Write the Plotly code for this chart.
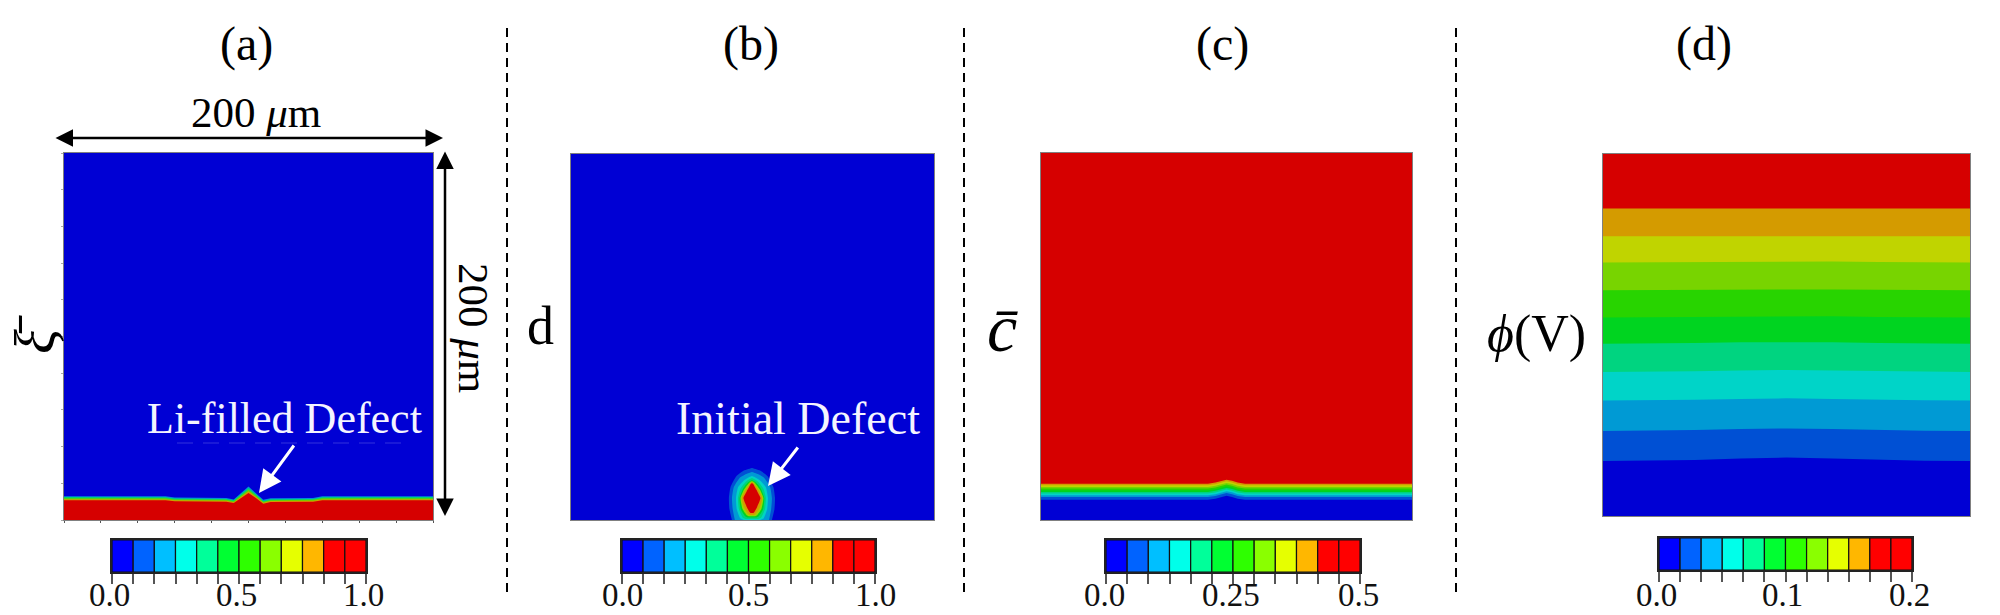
import plotly.graph_objects as go

W = 2000
H = 615
FONT = "Liberation Serif"

# panel boxes in pixels of the page: left, right, top, bottom
panel_box = [(64, 433, 153, 520), (571, 934, 154, 520), (1041, 1412, 153, 520), (1603, 1970, 154, 516)]
cbar_box = [(112, 366, 540, 572), (622, 875, 540, 572), (1106, 1360, 540, 572), (1659, 1912, 538, 570)]
cbar_label_shift = [-3, 0, -2, -3]

# contour colours as the panels show them (muted) and as the colour bars show them
cbar_colors = ["#0000ff", "#0063ff", "#00bfff", "#00ffea", "#00ff9a", "#00ff32",
               "#2eff00", "#8aff00", "#e6ff00", "#ffb700", "#ff0000", "#ff0000"]
cbar_max = [1.0, 1.0, 0.5, 0.2]
cbar_labels = [["0.0", "0.5", "1.0"], ["0.0", "0.5", "1.0"], ["0.0", "0.25", "0.5"], ["0.0", "0.1", "0.2"]]

BLUE = "#0000d4"
RED = "#d60000"

# (a) interface, y in um along a_x
a_x = [0, 30, 55, 60, 88, 92, 96, 100, 104, 108, 112, 135, 140, 170, 200]
a_colors = ["#0090d4", "#00d470", "#60d400", "#d49b00", RED]
a_outer = [13.0, 13.0, 12.9, 12.2, 12.0, 11.2, 14.6, 18.2, 14.6, 11.0, 11.8, 12.0, 12.9, 13.0, 13.0]
a_green = [12.5, 12.5, 12.4, 11.7, 11.5, 10.7, 14.0, 17.4, 14.0, 10.4, 11.3, 11.5, 12.4, 12.5, 12.5]
a_yellow = [11.9, 11.9, 11.8, 11.2, 11.0, 10.2, 13.4, 16.5, 13.4, 9.9, 10.8, 11.0, 11.8, 11.9, 11.9]
a_orange = [11.3, 11.3, 11.2, 10.7, 10.5, 9.7, 12.7, 15.6, 12.7, 9.4, 10.3, 10.5, 11.2, 11.3, 11.3]
a_red = [10.8, 10.8, 10.7, 10.2, 10.0, 9.2, 12.0, 14.7, 12.0, 8.9, 9.8, 10.0, 10.7, 10.8, 10.8]
a_layers = [a_outer, a_green, a_yellow, a_orange, a_red]

# (b) defect contours, height y and half width in um, outer one first
b_center = 99.7
b_colors = ["#0050d4", "#009ad4", "#00d4c4", "#00d480", "#00d420", "#9ad400", "#d49b00", RED]
b_y = [
    [-2, 0, 6, 12, 18, 24, 27, 28.4],
    [-2, 0, 6, 12, 18, 23, 25, 26.2],
    [0.0, 1, 6, 12, 18, 21.5, 23, 24],
    [0.5, 1.2, 6, 12, 17, 20.5, 22, 23],
    [1.3, 2, 6, 12, 17, 19.5, 21, 21.9],
    [2, 2.8, 6, 12, 16.5, 19, 20.5, 21.3],
    [2.8, 3.6, 6.5, 12, 16, 18.5, 20, 20.8],
    [3.8, 4.5, 7, 12, 15.5, 18, 19.5, 20.2],
]
b_hw = [
    [10.5, 11.0, 12.4, 12.7, 11.8, 8.5, 4.5, 0],
    [8.8, 9.4, 10.6, 11.0, 10.0, 6.8, 3.5, 0],
    [4.5, 6.5, 8.4, 8.8, 7.6, 4.6, 2.4, 0],
    [3.5, 5.0, 7.2, 7.7, 6.4, 3.8, 2.0, 0],
    [2.5, 3.8, 6.2, 6.8, 5.0, 3.2, 1.6, 0],
    [1.8, 3.0, 5.2, 6.3, 4.4, 2.6, 1.3, 0],
    [1.2, 2.2, 4.2, 5.6, 3.8, 2.0, 1.0, 0],
    [0.8, 1.4, 2.8, 4.7, 3.0, 1.6, 0.8, 0],
]

# (c) bands below the red part, top band first
c_x = [0, 90, 94, 97, 100, 103, 106, 110, 200]
c_bump = [0, 0, 0.6, 1.6, 2.2, 1.6, 0.6, 0, 0]
c_colors = ["#d49b00", "#c0d400", "#78d400", "#28d400", "#00d420", "#00d480", "#00d4c8", "#009ad4", "#0050d4", BLUE]
c_levels = [19.8, 18.9, 18.0, 17.1, 16.2, 15.3, 14.4, 13.5, 12.5, 11.0]

# (d) band edges, top band first
d_x = [0, 25, 50, 75, 100, 125, 150, 175, 200]
d_colors = ["#d49b00", "#c0d400", "#78d400", "#28d400", "#00d420", "#00d480", "#00d4c8", "#009ad4", "#0050d4", BLUE]
d_edges = [
    [169.9, 169.9, 170.0, 170.1, 170.2, 170.1, 170.0, 169.9, 169.9],
    [154.5, 154.5, 154.6, 154.8, 154.9, 154.8, 154.6, 154.5, 154.5],
    [140.1, 140.2, 140.4, 140.6, 140.7, 140.6, 140.4, 140.2, 140.1],
    [124.7, 124.8, 125.0, 125.2, 125.4, 125.2, 125.0, 124.8, 124.7],
    [109.7, 109.8, 110.0, 110.3, 110.5, 110.3, 110.0, 109.8, 109.7],
    [95.2, 95.3, 95.6, 96.0, 96.2, 96.0, 95.6, 95.3, 95.2],
    [79.6, 79.7, 80.0, 80.4, 80.7, 80.4, 80.0, 79.7, 79.6],
    [63.8, 63.9, 64.2, 64.7, 65.0, 64.7, 64.2, 63.9, 63.8],
    [47.0, 47.1, 47.5, 48.1, 48.4, 48.1, 47.5, 47.1, 47.0],
    [30.4, 30.5, 30.9, 31.7, 32.3, 31.7, 30.9, 30.5, 30.4],
]

panel_bg = [BLUE, BLUE, RED, RED]


def fx(px):
    return px / W


def fy(py):
    return 1 - py / H


def band(x, y, color, ax):
    # filled down to the bottom of the panel, later ones paint over earlier ones
    return go.Scatter(x=x, y=y, mode="lines", fill="tozeroy", fillcolor=color,
                      line=dict(color=color, width=0), xaxis="x" + ax, yaxis="y" + ax,
                      hoverinfo="skip", showlegend=False)


fig = go.Figure()

for ys, color in zip(a_layers, a_colors):
    fig.add_trace(band(a_x, ys, color, ""))

for ys, hw, color in zip(b_y, b_hw, b_colors):
    xs = [b_center - w for w in hw] + [b_center + w for w in hw[::-1]]
    fig.add_trace(go.Scatter(x=xs, y=ys + ys[::-1], mode="lines", fill="toself", fillcolor=color,
                             line=dict(color=color, width=0, shape="spline", smoothing=0.5),
                             xaxis="x2", yaxis="y2", hoverinfo="skip", showlegend=False))

for level, color in zip(c_levels, c_colors):
    fig.add_trace(band(c_x, [level + b for b in c_bump], color, "3"))

for ys, color in zip(d_edges, d_colors):
    fig.add_trace(band(d_x, ys, color, "4"))

layout = dict(template="none", width=W, height=H, margin=dict(l=0, r=0, t=0, b=0), paper_bgcolor="white",
              plot_bgcolor="white", font=dict(family=FONT, color="black"), showlegend=False)

for i, box in enumerate(panel_box):
    n = "" if i == 0 else str(i + 1)
    ticks = "outside" if i == 0 else ""
    layout["xaxis" + n] = dict(domain=[fx(box[0]), fx(box[1])], range=[0, 200], anchor="y" + n,
                               automargin=False, showgrid=False, zeroline=False, showticklabels=False,
                               ticks=ticks, ticklen=2, tickcolor="#555555", dtick=20,
                               showline=True, mirror=True, linecolor="#808080", linewidth=1)
    layout["yaxis" + n] = dict(domain=[fy(box[3]), fy(box[2])], range=[0, 200], anchor="x" + n,
                               automargin=False, showgrid=False, zeroline=False, showticklabels=False,
                               ticks=ticks, ticklen=2, tickcolor="#aaaaaa", dtick=20,
                               showline=True, mirror=True, linecolor="#808080", linewidth=1)
    layout.setdefault("shapes", []).append(
        dict(type="rect", layer="below", xref="x" + n, yref="y" + n, x0=0, x1=200, y0=0, y1=200,
             fillcolor=panel_bg[i], line=dict(width=0)))

cbar_notes = []
for i, box in enumerate(cbar_box):
    n = str(i + 5)
    step = cbar_max[i] / len(cbar_colors)
    edges = [step * k for k in range(len(cbar_colors) + 1)]
    mids = [step * (k + 0.5) for k in range(len(cbar_colors))]
    fig.add_trace(go.Bar(x=mids, y=[1] * len(cbar_colors), width=step, xaxis="x" + n, yaxis="y" + n,
                         marker=dict(color=cbar_colors, line=dict(color="#111111", width=1.2)),
                         hoverinfo="skip", showlegend=False))
    layout["xaxis" + n] = dict(domain=[fx(box[0]), fx(box[1])], range=[0, cbar_max[i]], anchor="y" + n,
                               automargin=False, tickvals=edges, showticklabels=False, ticks="outside", ticklen=10,
                               tickcolor="#555555", tickwidth=1.5,
                               showgrid=False, zeroline=False, showline=True, mirror=True,
                               linecolor="#222222", linewidth=1.5)
    layout["yaxis" + n] = dict(domain=[fy(box[3]), fy(box[2])], range=[0, 1], anchor="x" + n,
                               automargin=False, showgrid=False, zeroline=False, showticklabels=False,
                               showline=True, mirror=True, linecolor="#222222", linewidth=1.5)
    # tick labels as annotations, plotly puts its own ones too low for this page
    for text, value in zip(cbar_labels[i], [0, cbar_max[i] / 2, cbar_max[i]]):
        cbar_notes.append(dict(text=text, xref="x" + n, yref="paper", x=value, y=fy(595),
                               xshift=cbar_label_shift[i], showarrow=False, xanchor="center", yanchor="middle",
                               font=dict(size=33, family=FONT, color="#111111")))

layout["annotations"] = cbar_notes
fig.update_layout(**layout)

# dashed separators
for x in [507, 964, 1456]:
    fig.add_shape(type="line", xref="paper", yref="paper", x0=fx(x), x1=fx(x), y0=fy(28), y1=fy(593),
                  line=dict(color="black", width=2, dash="9px,6px"))

# faint scratch left under the text of panel (a)
fig.add_shape(type="line", xref="paper", yref="paper", x0=fx(177), x1=fx(403), y0=fy(443), y1=fy(443),
              line=dict(color="rgba(255,255,255,0.2)", width=1, dash="16px,10px"))


def label(text, x, y, size, color="black", angle=0):
    fig.add_annotation(text=text, xref="paper", yref="paper", x=fx(x), y=fy(y), showarrow=False,
                       xanchor="center", yanchor="middle", textangle=angle,
                       font=dict(size=size, family=FONT, color=color))


def arrow(x0, y0, x1, y1, color, width, size, both=False):
    fig.add_annotation(text="", xref="paper", yref="paper", x=fx(x1), y=fy(y1), axref="pixel", ayref="pixel",
                       ax=x0 - x1, ay=y0 - y1, showarrow=True, arrowhead=2, arrowsize=size,
                       arrowwidth=width, arrowcolor=color, arrowside="end+start" if both else "end")


for text, x in zip(["(a)", "(b)", "(c)", "(d)"], [246, 751, 1222, 1704]):
    label(text, x, 44, 48)

label("200 <i>μ</i>m", 256, 112, 43)
label("200 <i>μ</i>m", 474, 328, 43, angle=90)
arrow(54, 138, 443, 138, "black", 2.5, 1.4, both=True)
arrow(445, 150, 445, 516, "black", 2.5, 1.4, both=True)

label("<i>ξ̄</i>", 34, 334, 58, angle=-90)
label("d", 540, 326, 54)
label("<i>c̄</i>", 1002, 328, 68)
label("<i>ϕ</i>(V)", 1536, 334, 52)

label("Li-filled Defect", 284, 418, 44, color="#f4f4ff")
label("Initial Defect", 798, 418, 46, color="#f4f4ff")
arrow(295, 444, 259, 493, "white", 3, 1.5)
arrow(799, 446, 768, 486, "white", 3, 1.5)

fig.write_html("out.html", config={"displayModeBar": False}, post_script="document.body.style.margin='0';")
